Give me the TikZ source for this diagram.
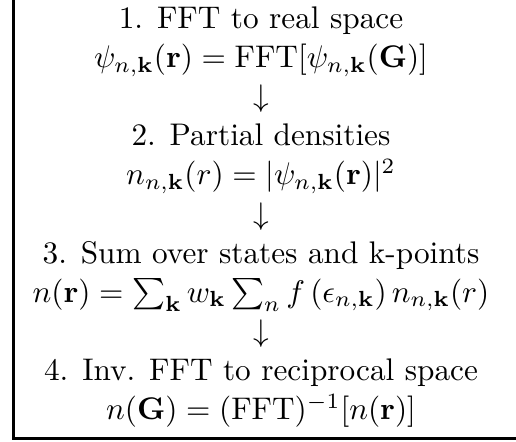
\documentclass[tikz,border=0pt]{standalone}
\usepackage{amsmath}
\usepackage{amssymb}
\usetikzlibrary{fit,calc}
\newcommand{\rvec}[1]{\mathbf{#1}}

\begin{document}
\begin{tikzpicture}[every node/.style={align=center}]
  \node[inner sep=0pt, font=\fontsize{10pt}{12.5pt}\selectfont] (steps) {1. FFT to real space\\
    \(\psi_{n,\rvec{k}}(\rvec{r}) = \mathrm{FFT}[\psi_{n,\rvec{k}}(\rvec{G})]\)\\
    \(\downarrow\)\\
    2. Partial densities\\
    \(n_{n,\rvec{k}}(r) = |\psi_{n,\rvec{k}}(\rvec{r})|^2\)\\
    \(\downarrow\)\\
    3. Sum over states and k-points\\
    \(n(\rvec{r}) = \sum_{\rvec{k}} w_{\rvec{k}} \sum_n f\left(\epsilon_{n,\rvec{k}}\right) n_{n,\rvec{k}}(r)\)\\
    \(\downarrow\)\\
    4. Inv. FFT to reciprocal space\\
    \(n(\rvec{G}) = (\mathrm{FFT})^{-1}[n(\rvec{r})]\)};

  % frame runs past the top and right edge
  \coordinate (rim) at ($(steps.north east)+(30pt,10pt)$);
  \node[draw, line width=1pt, inner xsep=6pt, inner ysep=3.3pt, fit=(steps)(rim)] (frame) {};

  \path let \p1 = ($(steps.east)-(steps.west)$), \n1 = {\x1/458} in
    coordinate (lo) at ($(steps.south west)+({-32*\n1*1pt},{-14*\n1*1pt})$)
    coordinate (hi) at ($(lo)+({516*\n1*1pt},{442*\n1*1pt})$);
  \pgfresetboundingbox
  \useasboundingbox (lo) rectangle (hi);
\end{tikzpicture}
\end{document}
